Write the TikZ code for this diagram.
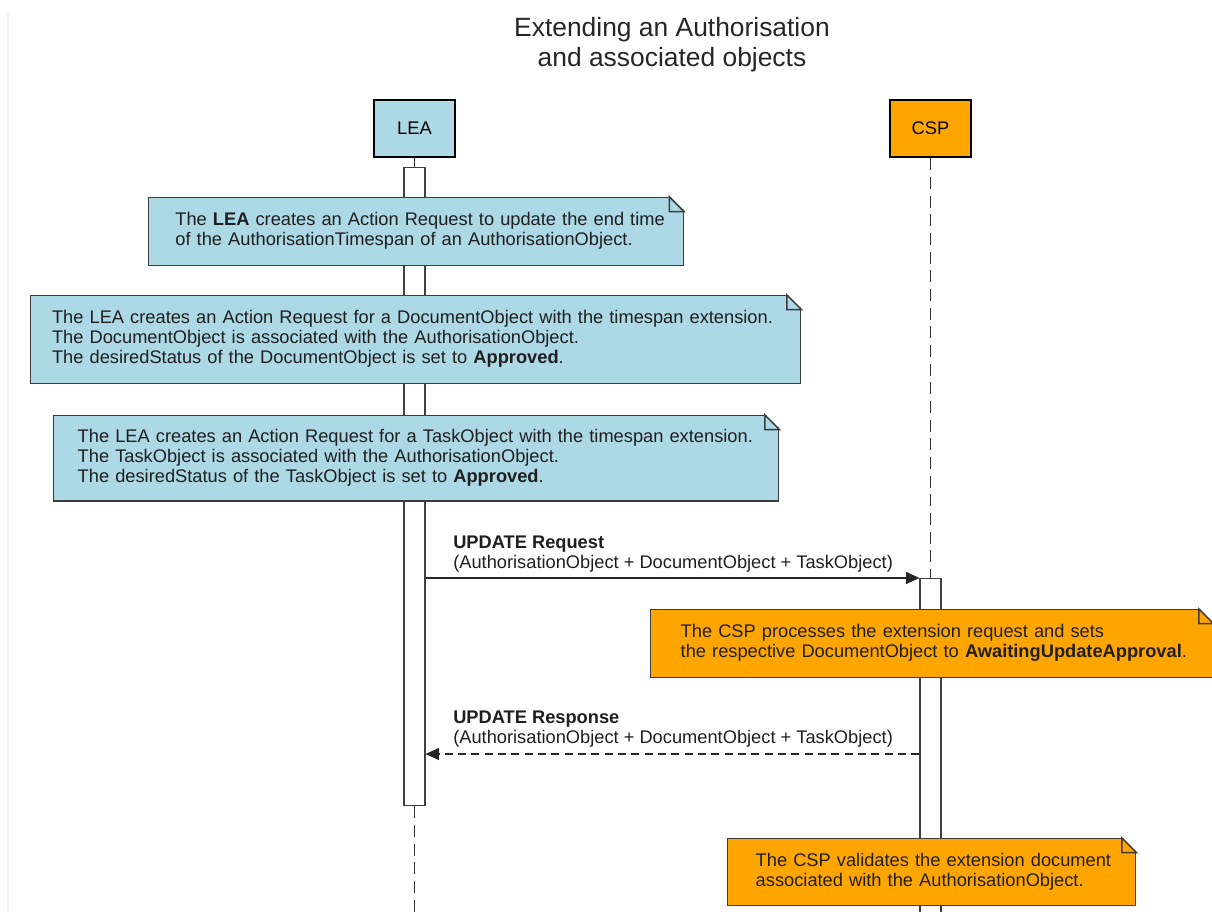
\documentclass[tikz,border=0pt]{standalone}
\usepackage{fontspec}
\setmainfont{Liberation Sans}
\usetikzlibrary{arrows.meta}
\definecolor{leablue}{HTML}{ADD8E6}
\definecolor{csporange}{HTML}{FFA500}
\definecolor{notegray}{HTML}{3C3C3C}
\newcommand{\notefont}{\fontsize{13.7pt}{14.8pt}\selectfont}
\newcommand{\fold}[1]{%
	\fill[white] ([xshift=-11pt,yshift=1pt]#1.north east) -- ([xshift=1pt,yshift=1pt]#1.north east) -- ([xshift=1pt,yshift=-11pt]#1.north east) -- cycle;
	\draw[notegray, line width=1.1pt] ([xshift=-11pt]#1.north east) -- ([yshift=-11pt]#1.north east) -- ([xshift=-11pt,yshift=-11pt]#1.north east) -- cycle;}

\begin{document}
\begin{tikzpicture}[x=0.75pt, y=-0.75pt,
	actor/.style={draw=black, line width=2.2pt, minimum width=60.75pt, minimum height=42.75pt, font=\notefont},
	bar/.style={draw=black!75, fill=white, line width=0.9pt, minimum width=15.75pt, anchor=north, inner sep=0pt},
	lifeline/.style={draw=black!80, line width=0.9pt, dash pattern=on 9pt off 5pt},
	note/.style={draw=notegray, line width=1.1pt, align=left, anchor=north west, inner xsep=20pt, inner ysep=0pt, font=\notefont, text=black!88},
	msg/.style={draw=black!85, line width=0.9pt, -{Triangle[length=10pt,width=9pt]}},
	msglabel/.style={align=left, anchor=west, inner sep=0pt, font=\notefont, text=black!88}]
	\useasboundingbox (0,0) rectangle (1212,912);
	\draw[black!5, line width=2pt] (8,12) -- (8,912);
	\node[align=center, font=\fontsize{19.8pt}{22.5pt}\selectfont, text=black!85] (title) at (672,45) {Extending an Authorisation\\and associated objects};
	\node[actor, fill=leablue] (lea) at (414.5,128.5) {LEA};
	\node[actor, fill=csporange] (csp) at (930.5,128.5) {CSP};
	\node[bar, minimum height=478.5pt] (leabar) at (414.5,167) {};
	\node[bar, minimum height=258pt] (cspbar) at (930.5,578) {};
	\coordinate (leaend) at (414.5,912);
	\draw[black!80, line width=0.9pt] (lea) -- (leabar);
	\draw[lifeline] (leabar.south) -- (leaend);
	\draw[lifeline] (csp) -- (cspbar);
	% notes of the LEA
	\node[note, fill=leablue, text width=361pt, minimum height=51pt] (n1) at (148,197)
		{\begin{tabular}{@{}l@{}}The \textbf{LEA} creates an Action Request to update the end time\\of the AuthorisationTimespan of an AuthorisationObject.\end{tabular}};
	\fold{n1}
	\node[note, fill=leablue, inner xsep=16pt, text width=545.5pt, minimum height=66pt] (n2) at (30,295)
		{\begin{tabular}{@{}l@{}}The LEA creates an Action Request for a DocumentObject with the timespan extension.\\The DocumentObject is associated with the AuthorisationObject.\\The desiredStatus of the DocumentObject is set to \textbf{Approved}.\end{tabular}};
	\fold{n2}
	\node[note, fill=leablue, inner xsep=18pt, text width=507.75pt, minimum height=64pt] (n3) at (53,415)
		{\begin{tabular}{@{}l@{}}The LEA creates an Action Request for a TaskObject with the timespan extension.\\The TaskObject is associated with the AuthorisationObject.\\The desiredStatus of the TaskObject is set to \textbf{Approved}.\end{tabular}};
	\fold{n3}
	% messages
	\draw[msg] (leabar.east |- cspbar.north) -- (cspbar.north west);
	\node[msglabel] (reqlabel) at (453,554) {\textbf{UPDATE Request}\\(AuthorisationObject + DocumentObject + TaskObject)};
	\node[note, fill=csporange, inner xsep=22.5pt, text width=376.5pt, minimum height=51pt] (n4) at (650,609)
		{\begin{tabular}{@{}l@{}}The CSP processes the extension request and sets\\the respective DocumentObject to \textbf{AwaitingUpdateApproval}.\end{tabular}};
	\fold{n4}
	\coordinate (resp) at (0,754);
	\draw[msg, dash pattern=on 6pt off 4pt] (cspbar.west |- resp) -- (leabar.east |- resp);
	\node[msglabel] (resplabel) at (453,729) {\textbf{UPDATE Response}\\(AuthorisationObject + DocumentObject + TaskObject)};
	\node[note, fill=csporange, inner xsep=21pt, text width=264pt, minimum height=50.25pt] (n5) at (727,838)
		{\begin{tabular}{@{}l@{}}The CSP validates the extension document\\associated with the AuthorisationObject.\end{tabular}};
	\fold{n5}
\end{tikzpicture}
\end{document}
